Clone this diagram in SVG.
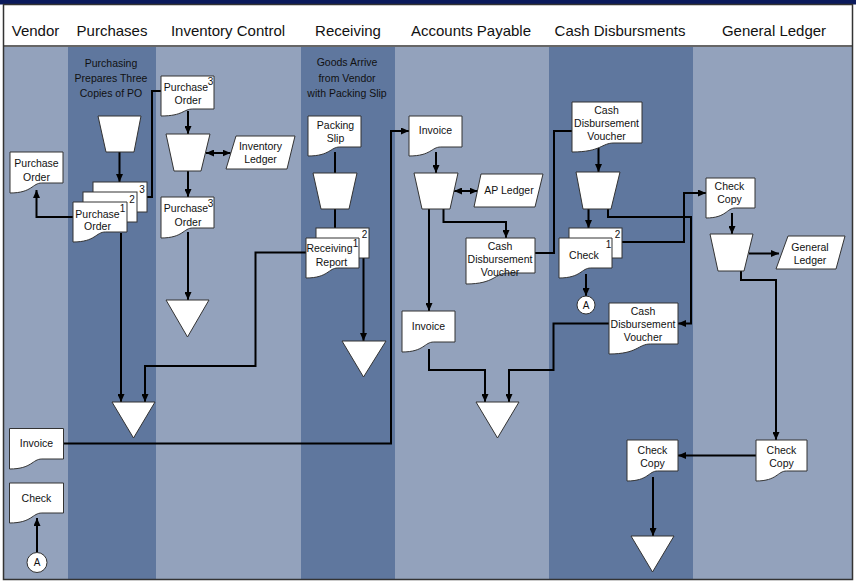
<svg xmlns="http://www.w3.org/2000/svg" width="861" height="586" viewBox="0 0 861 586">
<style>
.lt{fill:#93a2bc}
.dk{fill:#5f779e}
.hd{font-family:"Liberation Sans",Arial,sans-serif;font-size:15px;fill:#111;text-anchor:middle}
.ln{font-family:"Liberation Sans",Arial,sans-serif;font-size:10.5px;fill:#111;text-anchor:middle}
.t{font-family:"Liberation Sans",Arial,sans-serif;font-size:10.5px;fill:#111;text-anchor:middle}
.sp{font-family:"Liberation Sans",Arial,sans-serif;font-size:10px;fill:#111;text-anchor:middle}
.s{fill:#fff;stroke:#333;stroke-width:1}
.c{fill:none;stroke:#000;stroke-width:2}
.a{marker-end:url(#ah)}
.aa{marker-end:url(#ah);marker-start:url(#ah)}
</style>
<defs>
<marker id="ah" markerWidth="8" markerHeight="7" refX="8" refY="3.5" orient="auto-start-reverse" markerUnits="userSpaceOnUse">
<path d="M0,0 L8,3.5 L0,7 z" fill="#000"/>
</marker>
</defs>
<rect x="0" y="0" width="861" height="586" fill="#fff"/>
<rect x="0" y="0" width="856" height="4.5" fill="#0b1a5c"/>
<g id="lanes">
<rect class="lt" x="4" y="47" width="64" height="532"/>
<rect class="dk" x="68" y="47" width="88" height="532"/>
<rect class="lt" x="156" y="47" width="145" height="532"/>
<rect class="dk" x="301" y="47" width="94" height="532"/>
<rect class="lt" x="395" y="47" width="154" height="532"/>
<rect class="dk" x="549" y="47" width="144" height="532"/>
<rect class="lt" x="693" y="47" width="159" height="532"/>
</g>
<rect x="3.5" y="4.5" width="849" height="575" fill="none" stroke="#333" stroke-width="1.5"/>
<line x1="3.5" y1="46" x2="852.5" y2="46" stroke="#333" stroke-width="1.5"/>
<g id="headers">
<text class="hd" x="35.5" y="36">Vendor</text>
<text class="hd" x="112" y="36">Purchases</text>
<text class="hd" x="228" y="36">Inventory Control</text>
<text class="hd" x="348" y="36">Receiving</text>
<text class="hd" x="471" y="36">Accounts Payable</text>
<text class="hd" x="620" y="36">Cash Disbursments</text>
<text class="hd" x="774" y="36">General Ledger</text>
</g>
<g id="lane-notes">
<text class="ln" x="111" y="66.5">Purchasing</text>
<text class="ln" x="111" y="81.5">Prepares Three</text>
<text class="ln" x="111" y="96.5">Copies of PO</text>
<text class="ln" x="347" y="66">Goods Arrive</text>
<text class="ln" x="347" y="81.5">from Vendor</text>
<text class="ln" x="347" y="96.5">with Packing Slip</text>
</g>
<g id="connectors">
<path class="c a" d="M73,217 H36.5 V190"/>
<path class="c a" d="M119.5,152 V182"/>
<path class="c" d="M147,197 H152 V91 H161"/>
<path class="c a" d="M188,111 V134"/>
<path class="c aa" d="M206,153 H230.5"/>
<path class="c a" d="M188,171 V197"/>
<path class="c a" d="M188,232 V300"/>
<path class="c a" d="M121,233 V402"/>
<path class="c a" d="M306,252.5 H255.5 V366 H145 V402"/>
<path class="c" d="M335,152 V173"/>
<path class="c" d="M335,209 V228"/>
<path class="c a" d="M363.5,258 V341"/>
<path class="c a" d="M63.5,443.5 H391 V131 H409"/>
<path class="c a" d="M436,152 V173"/>
<path class="c aa" d="M454,191 H477.5"/>
<path class="c a" d="M443.5,209 V222 H506 V238"/>
<path class="c a" d="M429,209 V311"/>
<path class="c" d="M535,253 H554 V131 H572"/>
<path class="c a" d="M429,349 V370 H485 V402"/>
<path class="c a" d="M609,323.5 H553.5 V370 H509 V402"/>
<path class="c a" d="M598.5,148 V172"/>
<path class="c a" d="M588.5,209 V228"/>
<path class="c a" d="M608,209 V217 H691 V323.5 H678"/>
<path class="c a" d="M622,242 H684 V193 H706"/>
<path class="c a" d="M586,274 V296"/>
<path class="c a" d="M732,213 V234"/>
<path class="c a" d="M749,253.5 H779"/>
<path class="c a" d="M741,271 V280 H776 V440"/>
<path class="c a" d="M756,455.5 H678"/>
<path class="c a" d="M653,477 V536"/>
<path class="c a" d="M37,552 V518"/>
</g>
<g id="vendor-po">
<path class="s" d="M10,152 H63 V183 H41.8 C32.3,183 32.3,193 10,193 Z"/>
<text class="t" x="36.5" y="167">Purchase</text>
<text class="t" x="36.5" y="180.5">Order</text>
</g>
<g id="vendor-invoice">
<path class="s" d="M9.5,428.5 H63.5 V459 H41.9 C32.2,459 32.2,469 9.5,469 Z"/>
<text class="t" x="36.5" y="447">Invoice</text>
</g>
<g id="vendor-check">
<path class="s" d="M9.5,483 H63.5 V513 H41.9 C32.2,513 32.2,523 9.5,523 Z"/>
<text class="t" x="36.5" y="501.5">Check</text>
</g>
<g id="vendor-connector-a">
<circle class="s" cx="37" cy="562.5" r="10"/>
<text class="sp" x="37" y="566">A</text>
</g>
<g id="purchases-manual-op">
<polygon class="s" points="98,116 141,116 134,152 106,152"/>
</g>
<g id="purchases-po-stack">
<rect class="s" x="93" y="182" width="54" height="30"/>
<rect class="s" x="83" y="192" width="54" height="30"/>
<path class="s" d="M73,202 H127 V232 H105.4 C95.7,232 95.7,242 73,242 Z"/>
<text class="sp" x="142" y="192.5" font-size="9.5">3</text>
<text class="sp" x="132" y="202.5" font-size="9.5">2</text>
<text class="sp" x="122.5" y="212" font-size="9.5">1</text>
<text class="t" x="97.5" y="217.5">Purchase</text>
<text class="t" x="97.5" y="230">Order</text>
</g>
<g id="purchases-file">
<polygon class="s" points="112,402 155,402 133.5,438"/>
</g>
<g id="ic-po-in">
<path class="s" d="M161,76 H214 V109 H192.8 C183.3,109 183.3,116 161,116 Z"/>
<text class="t" x="186" y="91">Purchase</text>
<text class="sp" x="210.5" y="85">3</text>
<text class="t" x="188" y="104">Order</text>
</g>
<g id="ic-manual-op">
<polygon class="s" points="166,134 210,134 201,171 174,171"/>
</g>
<g id="inventory-ledger">
<polygon class="s" points="236,136 295,136 287,169 226,169"/>
<text class="t" x="260.5" y="150">Inventory</text>
<text class="t" x="260.5" y="162.5">Ledger</text>
</g>
<g id="ic-po-out">
<path class="s" d="M161,197 H214 V228 H192.8 C183.3,228 183.3,238 161,238 Z"/>
<text class="t" x="186" y="212">Purchase</text>
<text class="sp" x="210.5" y="207">3</text>
<text class="t" x="188" y="225.5">Order</text>
</g>
<g id="ic-file">
<polygon class="s" points="166,300 209,300 187.5,337"/>
</g>
<g id="packing-slip">
<path class="s" d="M308,116 H361 V147 H339.8 C330.3,147 330.3,156 308,156 Z"/>
<text class="t" x="335.5" y="129">Packing</text>
<text class="t" x="335.5" y="141.5">Slip</text>
</g>
<g id="receiving-manual-op">
<polygon class="s" points="313,173 357,173 349,209 321,209"/>
</g>
<g id="receiving-report">
<rect class="s" x="316" y="228" width="53" height="30"/>
<path class="s" d="M306,238 H359 V268 H337.8 C328.3,268 328.3,278 306,278 Z"/>
<text class="sp" x="364.5" y="238" font-size="9.5">2</text>
<text class="sp" x="355.5" y="246.5" font-size="9">1</text>
<text class="t" x="329.5" y="252" font-size="10">Receiving</text>
<text class="t" x="331.5" y="265.5">Report</text>
</g>
<g id="receiving-file">
<polygon class="s" points="342,341 386,341 363.5,377"/>
</g>
<g id="ap-invoice">
<path class="s" d="M409,116 H462 V147 H440.8 C431.3,147 431.3,156 409,156 Z"/>
<text class="t" x="435.5" y="134">Invoice</text>
</g>
<g id="ap-manual-op">
<polygon class="s" points="414,173 458,173 450,209 422,209"/>
</g>
<g id="ap-ledger">
<polygon class="s" points="481,174 543,174 535,207 474,207"/>
<text class="t" x="509" y="194">AP Ledger</text>
</g>
<g id="ap-voucher">
<path class="s" d="M466,238 H535 V273 H507.4 C495,273 495,284 466,284 Z"/>
<text class="t" x="500" y="249.5">Cash</text>
<text class="t" x="500" y="262.5">Disbursement</text>
<text class="t" x="500" y="275.5">Voucher</text>
</g>
<g id="ap-invoice-2">
<path class="s" d="M402,311 H455 V342 H433.8 C424.3,342 424.3,352 402,352 Z"/>
<text class="t" x="428.5" y="330">Invoice</text>
</g>
<g id="ap-file">
<polygon class="s" points="476,402 519,402 497.5,438"/>
</g>
<g id="cd-voucher">
<path class="s" d="M572,102 H642 V143 H614 C601.4,143 601.4,152 572,152 Z"/>
<text class="t" x="606.5" y="113.5">Cash</text>
<text class="t" x="606.5" y="126.5">Disbursement</text>
<text class="t" x="606.5" y="139.5">Voucher</text>
</g>
<g id="cd-manual-op">
<polygon class="s" points="576,172 620,172 611,209 583,209"/>
</g>
<g id="check-stack">
<rect class="s" x="569" y="228" width="53" height="30"/>
<path class="s" d="M559,238 H612 V268 H590.8 C581.3,268 581.3,278 559,278 Z"/>
<text class="sp" x="617.5" y="238" font-size="9.5">2</text>
<text class="sp" x="608.5" y="248" font-size="9.5">1</text>
<text class="t" x="584" y="258.5">Check</text>
</g>
<g id="cd-connector-a">
<circle class="s" cx="586" cy="305" r="9"/>
<text class="sp" x="586" y="308.5">A</text>
</g>
<g id="cd-voucher-2">
<path class="s" d="M609,303 H678 V344 H650.4 C638,344 638,354 609,354 Z"/>
<text class="t" x="643" y="315">Cash</text>
<text class="t" x="643" y="328">Disbursement</text>
<text class="t" x="643" y="341">Voucher</text>
</g>
<g id="cd-check-copy">
<path class="s" d="M627,440 H678 V471 H657.6 C648.4,471 648.4,481 627,481 Z"/>
<text class="t" x="652.5" y="454">Check</text>
<text class="t" x="652.5" y="467">Copy</text>
</g>
<g id="cd-file">
<polygon class="s" points="631,536 674,536 652.5,572"/>
</g>
<g id="gl-check-copy">
<path class="s" d="M706,178 H755 V208 H735.4 C726.6,208 726.6,218 706,218 Z"/>
<text class="t" x="729.5" y="190">Check</text>
<text class="t" x="729.5" y="203">Copy</text>
</g>
<g id="gl-manual-op">
<polygon class="s" points="710,234 753,234 744,271 718,271"/>
</g>
<g id="general-ledger">
<polygon class="s" points="788,236 845,236 836,269 776,269"/>
<text class="t" x="810" y="251">General</text>
<text class="t" x="810" y="263.5">Ledger</text>
</g>
<g id="gl-check-copy-2">
<path class="s" d="M756,440 H807 V471 H786.6 C777.4,471 777.4,481 756,481 Z"/>
<text class="t" x="781.5" y="454">Check</text>
<text class="t" x="781.5" y="467">Copy</text>
</g>
</svg>
